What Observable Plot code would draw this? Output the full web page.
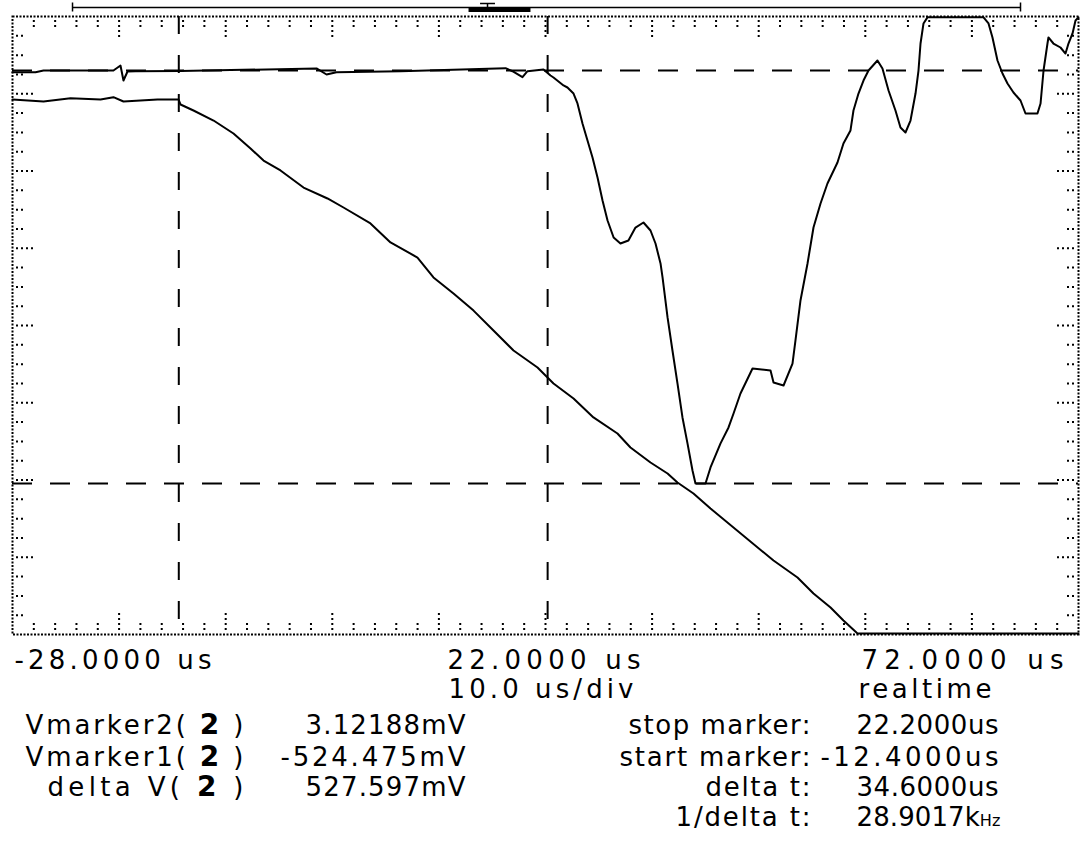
<!DOCTYPE html>
<html><head><meta charset="utf-8">
<script src="https://cdn.jsdelivr.net/npm/d3@7"></script>
<script src="https://cdn.jsdelivr.net/npm/@observablehq/plot@0.6"></script>
<style>
html,body{margin:0;padding:0;background:#fff;}
#chart{width:1086px;height:867px;}
#chart svg text{font-family:"DejaVu Sans",sans-serif;white-space:pre;}
</style></head><body><div id="chart"></div>
<script>
// ---- data ----
const timeRange = [-28, 72];          // us, 10 us/div
const voltRange = [-717.4, 72.1];     // mV on screen
const ch2Trace = [[-28,0.9],[-25.84,0.9],[-25.09,3.1],[-18.53,3.1],[-17.87,9.5],[-17.59,-9.7],[-17.21,1.8],[-16.46,2.2],[-12.24,2.5],[0.52,5.7],[1.46,-2.0],[2.39,1.0],[8.40,2.2],[18.25,6.1],[18.90,2.2],[19.84,-5.4],[20.31,2.2],[21.81,4.4],[22.47,-3.3],[22.75,-5.8],[23.69,-16.0],[24.06,-18.6],[24.63,-26.3],[25.00,-39.0],[25.47,-64.6],[25.94,-86.3],[26.41,-108.0],[26.88,-133.6],[27.35,-163.0],[27.82,-188.5],[28.39,-210.2],[29.03,-217.9],[29.78,-214.1],[30.44,-197.5],[31.19,-191.1],[31.85,-201.3],[32.32,-217.9],[32.79,-243.4],[32.98,-261.3],[33.45,-312.4],[33.91,-354.6],[34.38,-396.7],[34.85,-440.1],[35.32,-473.3],[35.79,-507.9],[36.07,-524.5],[37.01,-524.5],[37.48,-504.0],[38.42,-473.3],[39.17,-452.9],[39.64,-435.1],[40.29,-409.5],[41.42,-377.6],[43.11,-380.1],[43.39,-395.5],[44.33,-399.3],[45.17,-371.2],[45.45,-341.8],[45.92,-290.7],[46.58,-243.4],[47.14,-197.5],[47.80,-166.8],[48.45,-141.2],[49.39,-114.4],[49.95,-90.1],[50.61,-73.5],[50.89,-48.0],[51.36,-26.3],[51.83,-9.7],[52.30,3.1],[53.14,15.9],[53.61,5.7],[54.18,-22.4],[54.83,-48.0],[55.30,-69.7],[55.77,-76.1],[56.24,-60.8],[56.71,-26.3],[56.99,3.1],[57.18,37.6],[57.46,63.2],[57.83,71.0],[63.09,71.0],[63.56,63.2],[63.93,45.3],[64.40,15.9],[64.87,-0.7],[65.34,-13.5],[65.90,-25.0],[66.56,-35.2],[67.03,-51.8],[68.15,-51.8],[68.44,-39.0],[68.72,3.1],[69.09,37.6],[69.18,45.3],[69.65,37.6],[70.31,32.5],[70.78,24.8],[71.06,37.6],[71.44,50.4],[71.72,67.0],[72.00,71.0]];
const ch1Trace = [[-28,-33.9],[-25.09,-36.5],[-22.56,-32.3],[-19.74,-33.9],[-18.53,-31.0],[-17.59,-36.5],[-14.40,-33.9],[-12.43,-33.9],[-12.24,-40.3],[-11.02,-48.0],[-9.14,-60.8],[-7.27,-77.4],[-5.67,-96.5],[-4.45,-111.9],[-2.86,-124.6],[-0.70,-146.4],[1.55,-160.4],[3.05,-171.9],[5.58,-192.3],[7.46,-216.6],[9.99,-235.8],[11.49,-261.3],[13.37,-281.8],[15.25,-303.6],[17.12,-329.0],[19.00,-354.6],[21.25,-376.3],[22.75,-396.7],[24.63,-415.9],[26.50,-440.1],[28.75,-460.6],[29.97,-478.5],[31.85,-497.7],[33.45,-511.7],[34.38,-523.2],[35.88,-537.3],[37.48,-556.5],[43.39,-622.9],[45.64,-644.6],[47.14,-665.1],[48.74,-683.0],[49.95,-699.6],[51.27,-716.1],[72,-716.1]];
const markerTimes = [-12.4, 22.2];          // start / stop marker, us
const markerVolts = [3.12188, -524.475];    // Vmarker2 / Vmarker1, mV
const memoryBar = [-22.37, 66.56];
const memoryWindow = [14.78, 20.59];
const triggerTime = 16.56;
const axisLabelTimes = [-28, 22, 72];
const axisLabels = ["-28.0000 us", "22.0000 us", "72.0000 us"];
const scaleLabels = ["10.0 us/div", "realtime"];
const vLabels = ["Vmarker2( 2 )", "Vmarker1( 2 )", "delta V( 2 )"];
const vValues = ["3.12188mV", "-524.475mV", "527.597mV"];
const tLabels = ["stop marker:", "start marker:", "delta t:", "1/delta t:"];
const tValues = ["22.2000us", "-12.4000us", "34.6000us", "28.9017kHz"];

// ---- layout ----
const W = 1086, H = 867, ML = 12, MR = 8, MT = 16, MB = 233;
const pw = W - ML - MR, ph = H - MT - MB;
const [t0, t1] = timeRange, [v0, v1] = voltRange;
const kx = (t1 - t0) / pw, ky = (v1 - v0) / ph;
const FS = 26;

const xTicks = d3.range(1, 50).map(i => ({t: t0 + i * 2, major: i % 5 === 0}));
const yTicks = d3.range(1, 32).map(i => ({v: v1 - i * (v1 - v0) / 32, major: i % 4 === 0}));
const dot = {stroke: "#000", strokeWidth: 2, strokeDasharray: "2,3"};
const len = d => (d.major ? 17 : 7);

// text boxes: [left, right, baseline] in pixels
const boxes = new Map();
function txt(str, x0, x1, base) {
  boxes.set(str, x1 - x0);
  return Plot.text([str], {text: d => d, frameAnchor: "top-left", dx: x0 - ML, dy: base - MT,
    textAnchor: "start", lineAnchor: "bottom", fontSize: FS, fill: "#000"});
}
const textMarks = [];
const vl = [[25, 243], [25, 243], [47, 243]], vv = [[305, 465], [280, 465], [305, 465]];
const tl = [[628, 810], [619, 810], [705, 810], [675, 810]], tv = [[856, 998], [820, 998], [856, 998], [856, 1000]];
[733, 765, 795].forEach((y, i) => {
  textMarks.push(txt(vLabels[i], vl[i][0], vl[i][1], y));
  textMarks.push(txt(vValues[i], vv[i][0], vv[i][1], y));
});
[733, 765, 795, 825].forEach((y, i) => {
  textMarks.push(txt(tLabels[i], tl[i][0], tl[i][1], y));
  textMarks.push(txt(tValues[i], tv[i][0], tv[i][1], y));
});
textMarks.push(txt(scaleLabels[0], 448, 633, 697));
textMarks.push(txt(scaleLabels[1], 858, 991, 697));
const axisBoxes = [[14, 211], [447, 640], [861, 1063]];
const axisMarks = axisLabelTimes.map((t, i) => {
  boxes.set(axisLabels[i], axisBoxes[i][1] - axisBoxes[i][0]);
  return Plot.text([t], {x: d => d, text: () => axisLabels[i], frameAnchor: "bottom",
    dy: 668 - (H - MB), dx: axisBoxes[i][0] - (ML + (t - t0) / kx),
    textAnchor: "start", lineAnchor: "bottom", fontSize: FS, fill: "#000"});
});

const chart = Plot.plot({
  width: W, height: H,
  marginLeft: ML, marginRight: MR, marginTop: MT, marginBottom: MB,
  x: {domain: timeRange, axis: null},
  y: {domain: [v0, v1], axis: null},
  marks: [
    Plot.frame({stroke: "#000", strokeWidth: 2, strokeDasharray: "2,1.5"}),
    // graticule ticks (dotted)
    Plot.ruleX(xTicks, {x: "t", y1: () => v1 - 4 * ky, y2: d => v1 - (4 + len(d)) * ky, ...dot}),
    Plot.ruleX(xTicks, {x: "t", y1: () => v0 + 4 * ky, y2: d => v0 + (4 + len(d)) * ky, ...dot}),
    Plot.ruleY(yTicks, {y: "v", x1: () => t0 + 4 * kx, x2: d => t0 + (4 + len(d)) * kx, ...dot}),
    Plot.ruleY(yTicks, {y: "v", x1: () => t1 - 4 * kx, x2: d => t1 - (4 + len(d)) * kx, ...dot}),
    // markers
    Plot.ruleX(markerTimes, {stroke: "#000", strokeWidth: 2, strokeDasharray: "18,21"}),
    Plot.ruleY(markerVolts, {stroke: "#000", strokeWidth: 2, strokeDasharray: "20,18"}),
    // traces
    Plot.line(ch1Trace, {x: d => d[0], y: d => d[1], stroke: "#000", strokeWidth: 2}),
    Plot.line(ch2Trace, {x: d => d[0], y: d => d[1], stroke: "#000", strokeWidth: 2}),
    // memory bar above the screen
    Plot.link([memoryBar], {x1: d => d[0], x2: d => d[1], y1: () => v1 + 9 * ky, y2: () => v1 + 9 * ky, stroke: "#000", strokeWidth: 1.5}),
    Plot.link(memoryBar, {x1: d => d, x2: d => d, y1: () => v1 + 14 * ky, y2: () => v1 + 5 * ky, stroke: "#000", strokeWidth: 1.5}),
    Plot.link([memoryWindow], {x1: d => d[0], x2: d => d[1], y1: () => v1 + 6.5 * ky, y2: () => v1 + 6.5 * ky, stroke: "#000", strokeWidth: 4}),
    Plot.link([triggerTime], {x1: d => d - 0.7, x2: d => d + 0.7, y1: () => v1 + 13 * ky, y2: () => v1 + 13 * ky, stroke: "#000", strokeWidth: 1.5}),
    Plot.link([triggerTime], {x1: d => d, x2: d => d, y1: () => v1 + 13 * ky, y2: () => v1 + 8 * ky, stroke: "#000", strokeWidth: 1.5}),
    ...axisMarks,
    ...textMarks
  ]
});

d3.select(chart).selectAll("text").each(function () {
  const s = d3.select(this), str = this.textContent;
  if (boxes.has(str)) s.attr("textLength", boxes.get(str)).attr("lengthAdjust", "spacing");
  let m = /^(.*\( )2( \))$/.exec(str);
  if (m) {
    s.text(null);
    s.append("tspan").text(m[1]);
    s.append("tspan").attr("font-weight", "bold").attr("font-size", FS + 2).text("2");
    s.append("tspan").text(m[2]);
  }
  m = /^(.*k)(Hz)$/.exec(str);
  if (m) {
    s.text(null);
    s.append("tspan").text(m[1]);
    s.append("tspan").attr("font-size", FS * 0.62).text(m[2]);
  }
});
document.getElementById("chart").append(chart);
</script></body></html>
